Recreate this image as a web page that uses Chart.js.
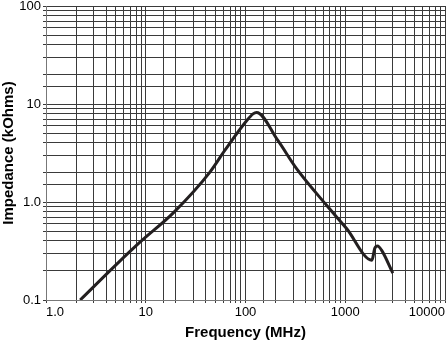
<!DOCTYPE html>
<html>
<head>
<meta charset="utf-8">
<script src="https://cdn.jsdelivr.net/npm/chart.js@4"></script>
<style>
  html, body { margin: 0; padding: 0; background: #ffffff; }
  #wrap { width: 446px; height: 342px; position: relative; }
</style>
</head>
<body>
<div id="wrap"><canvas id="impChart" width="446" height="342"></canvas></div>
<script>
// curve
const freqMHz       = [2.2, 5, 8.75, 19, 44, 62, 103, 119, 129, 211, 325, 650, 1031, 1849, 1981, 2108, 2311, 3000];
const impedanceKOhm = [0.1, 0.227, 0.389, 0.78, 2.02, 3.36, 6.78, 7.93, 8.2, 4.25, 2.19, 0.925, 0.536, 0.255, 0.338, 0.356, 0.323, 0.188];

const xTickLabels = { 1: '1.0', 10: '10', 100: '100', 1000: '1000', 10000: '10000' };
const yTickLabels = { '-1': '0.1', 0: '1.0', 1: '10', 2: '100' };

function decadeOf(v) {
    const l = Math.log10(v);
    return Math.abs(l - Math.round(l)) < 1e-6 ? Math.round(l) : null;
}

const points = freqMHz.map((f, i) => ({ x: f, y: impedanceKOhm[i] }));

const gridColor = '#3a3a3a';
const font = { family: 'Liberation Sans, Arial, sans-serif', size: 13 };

const ctx = document.getElementById('impChart').getContext('2d');
const impChart = new Chart(ctx, {
    type: 'line',
    data: {
        datasets: [{
            data: points,
            borderColor: '#231f20',
            borderWidth: 3,
            pointRadius: 0,
            fill: false,
            cubicInterpolationMode: 'monotone'
        }]
    },
    options: {
        responsive: false,
        animation: false,
        layout: { padding: { top: 6, right: 1, left: 0, bottom: 0 } },
        plugins: {
            legend: { display: false },
            tooltip: { enabled: false }
        },
        scales: {
            x: {
                type: 'logarithmic',
                min: 1,
                max: 10000,
                grid: { color: gridColor, lineWidth: 1, tickLength: 3 },
                border: { color: '#777' },
                ticks: {
                    autoSkip: false,
                    maxRotation: 0,
                    align: 'inner',
                    color: '#000',
                    font: font,
                    padding: 2,
                    callback: (v) => {
                        const d = decadeOf(v);
                        return d === null ? '' : xTickLabels[Math.pow(10, d)];
                    }
                },
                title: {
                    display: true,
                    text: 'Frequency (MHz)',
                    color: '#000',
                    font: { family: 'Liberation Sans, Arial, sans-serif', size: 15, weight: 'bold' },
                    padding: { top: 2, bottom: 0 }
                },
                afterFit: (scale) => {
                    scale.height = 42;
                    scale.paddingLeft = 0;
                    scale.paddingRight = 0;
                }
            },
            y: {
                type: 'logarithmic',
                min: 0.1,
                max: 100,
                grid: { color: gridColor, lineWidth: 1, tickLength: 3 },
                border: { color: '#777' },
                ticks: {
                    autoSkip: false,
                    color: '#000',
                    font: font,
                    padding: 2,
                    callback: (v) => {
                        const d = decadeOf(v);
                        return d === null ? '' : yTickLabels[d];
                    }
                },
                title: {
                    display: true,
                    text: 'Impedance (kOhms)',
                    color: '#000',
                    font: { family: 'Liberation Sans, Arial, sans-serif', size: 15, weight: 'bold' },
                    padding: { top: 0, bottom: 0 }
                },
                afterFit: (scale) => {
                    scale.width = 46;
                    scale.paddingTop = 0;
                    scale.paddingBottom = 0;
                }
            }
        }
    }
});
</script>
</body>
</html>
